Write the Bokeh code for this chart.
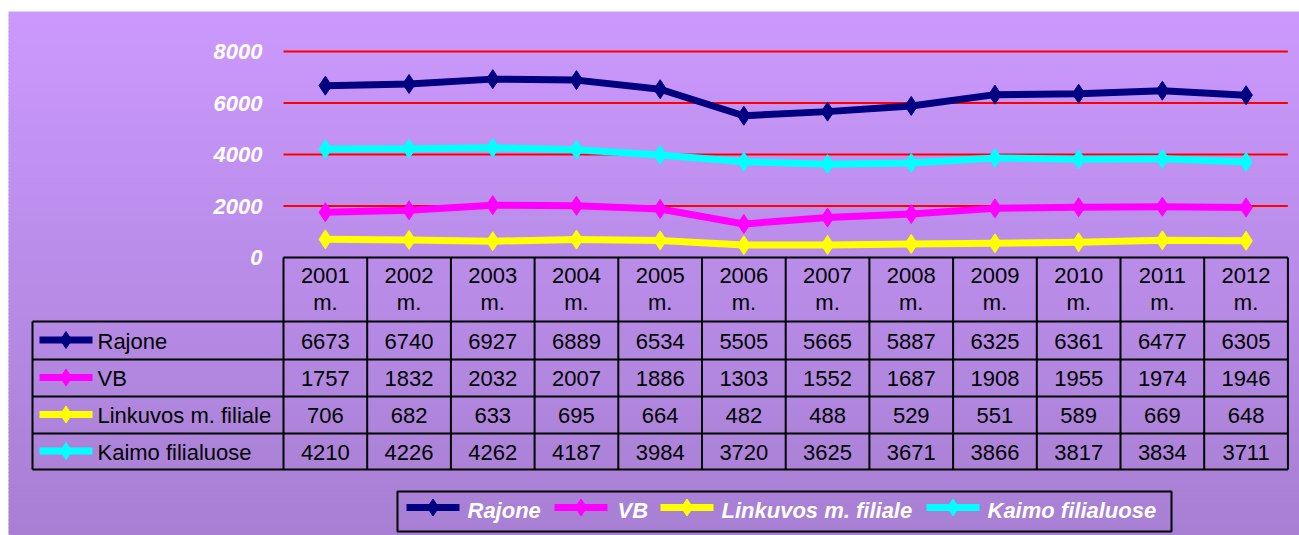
import numpy as np
from bokeh.plotting import figure
from bokeh.models import Range1d
from bokeh.core.properties import value
from bokeh.embed import file_html
from bokeh.resources import INLINE

# ---------------- data ----------------
years = ["2001", "2002", "2003", "2004", "2005", "2006",
         "2007", "2008", "2009", "2010", "2011", "2012"]
year_suffix = "m."
series_names = ["Rajone", "VB", "Linkuvos m. filiale", "Kaimo filialuose"]
rajone = [6673, 6740, 6927, 6889, 6534, 5505, 5665, 5887, 6325, 6361, 6477, 6305]
vb = [1757, 1832, 2032, 2007, 1886, 1303, 1552, 1687, 1908, 1955, 1974, 1946]
linkuvos = [706, 682, 633, 695, 664, 482, 488, 529, 551, 589, 669, 648]
kaimo = [4210, 4226, 4262, 4187, 3984, 3720, 3625, 3671, 3866, 3817, 3834, 3711]
y_ticks = [0, 2000, 4000, 6000, 8000]
series_colors = ["#000080", "#FF00FF", "#FFFF00", "#00FFFF"]
series_values = [rajone, vb, linkuvos, kaimo]

# ---------------- layout (screen px of the page) ----------------
W, H = 1299, 535
PAGE = 0
PX_L, PX_R = 283.0, 1287.4
COL_W = (PX_R - PX_L) / len(years)
Y0_PX, YTOP_PX = 257.0, 51.0
K = (Y0_PX - YTOP_PX) / 8000.0
FONT = value("Liberation Sans")
FS = "22px"

x_range = Range1d((PAGE - PX_L) / COL_W - 0.5, (PAGE + W - PX_L) / COL_W - 0.5)
y_range = Range1d((Y0_PX - (PAGE + H)) / K, (Y0_PX - PAGE) / K)

p = figure(width=W, height=H, x_range=x_range, y_range=y_range,
           x_axis_type=None, y_axis_type=None, toolbar_location=None,
           output_backend="svg", min_border=0, title=None)
p.extra_x_ranges = {"px": Range1d(PAGE, PAGE + W)}
p.extra_y_ranges = {"px": Range1d(PAGE + H, PAGE)}
p.background_fill_color = "white"
p.border_fill_color = "white"
p.outline_line_color = None

PXR = dict(x_range_name="px", y_range_name="px")

# background gradient
top_c = np.array([203, 153, 253])
bot_c = np.array([167, 127, 211])
g_left, g_top, g_bot = 8.0, 11.0, PAGE + H
n = 132
edges = np.linspace(g_top, g_bot, n + 1)
cols = []
for i in range(n):
    f = i / (n - 1)
    c = (top_c * (1 - f) + bot_c * f).round().astype(int)
    cols.append("#%02x%02x%02x" % tuple(c))
p.quad(left=[g_left] * n, right=[PAGE + W] * n, top=list(edges[:-1]),
       bottom=list(edges[1:] + 0.8), fill_color=cols, line_color=None, **PXR)

# grid lines (red)
gt = [t for t in y_ticks if t > 0]
p.segment(x0=[-0.5] * len(gt), x1=[len(years) - 0.5] * len(gt), y0=gt, y1=gt,
          line_color="#FF0000", line_width=2.2)

# y tick labels
p.text(x=[262] * len(y_ticks), y=y_ticks, text=[str(t) for t in y_ticks],
       x_range_name="px", text_font=FONT, text_font_size=FS,
       text_font_style="bold italic", text_color="white",
       text_align="right", text_baseline="middle")

# series lines
xs = list(range(len(years)))
for vals, c in zip(series_values, series_colors):
    p.line(xs, vals, line_color=c, line_width=7, line_join="round")
    p.scatter(xs, vals, marker="diamond", size=19, fill_color=c, line_color=c)

# ---------------- data table ----------------
row_edges = [321, 359, 396, 433, 469]
t_left = 32
lc = "black"
lw = 2
p.segment(x0=[PX_L], x1=[PX_R], y0=[Y0_PX], y1=[Y0_PX], line_color=lc, line_width=lw, **PXR)
p.segment(x0=[t_left] * len(row_edges), x1=[PX_R] * len(row_edges),
          y0=row_edges, y1=row_edges, line_color=lc, line_width=lw, **PXR)
vx = [PX_L + COL_W * k for k in range(len(years) + 1)]
p.segment(x0=vx, x1=vx, y0=[Y0_PX] * len(vx), y1=[row_edges[-1]] * len(vx),
          line_color=lc, line_width=lw, **PXR)
p.segment(x0=[t_left], x1=[t_left], y0=[row_edges[0]], y1=[row_edges[-1]],
          line_color=lc, line_width=lw, **PXR)

centers = [PX_L + COL_W * (k + 0.5) for k in range(len(years))]
p.text(x=centers, y=[275] * len(years), text=years, text_font=FONT,
       text_font_size=FS, text_color="black", text_align="center",
       text_baseline="middle", **PXR)
p.text(x=centers, y=[302] * len(years), text=[year_suffix] * len(years), text_font=FONT,
       text_font_size=FS, text_color="black", text_align="center",
       text_baseline="middle", **PXR)

for r, (name, vals, c) in enumerate(zip(series_names, series_values, series_colors)):
    yc = (row_edges[r] + row_edges[r + 1]) / 2 + 0.5
    p.text(x=centers, y=[yc] * len(years), text=[str(v) for v in vals], text_font=FONT,
           text_font_size=FS, text_color="black", text_align="center",
           text_baseline="middle", **PXR)
    p.text(x=[97], y=[yc], text=[name], text_font=FONT, text_font_size=FS,
           text_color="black", text_align="left", text_baseline="middle", **PXR)
    p.segment(x0=[39], x1=[92], y0=[yc - 1], y1=[yc - 1], line_color=c, line_width=7, **PXR)
    p.scatter(x=[65.5], y=[yc - 1], marker="diamond", size=17, fill_color=c,
              line_color=c, **PXR)

# ---------------- legend ----------------
p.quad(left=[397], right=[1171], top=[491], bottom=[531], fill_color=None,
       line_color="black", line_width=2, **PXR)
key_x = [406, 554, 660, 926]
txt_x = [467, 617, 721, 987]
for name, c, kx, tx in zip(series_names, series_colors, key_x, txt_x):
    p.segment(x0=[kx], x1=[kx + 53], y0=[507], y1=[507], line_color=c, line_width=7, **PXR)
    p.scatter(x=[kx + 26.5], y=[507], marker="diamond", size=17, fill_color=c,
              line_color=c, **PXR)
    p.text(x=[tx], y=[510], text=[name], text_font=FONT, text_font_size=FS,
           text_font_style="bold italic", text_color="white", text_align="left",
           text_baseline="middle", **PXR)

open("out.html", "w").write(file_html(p, INLINE))
